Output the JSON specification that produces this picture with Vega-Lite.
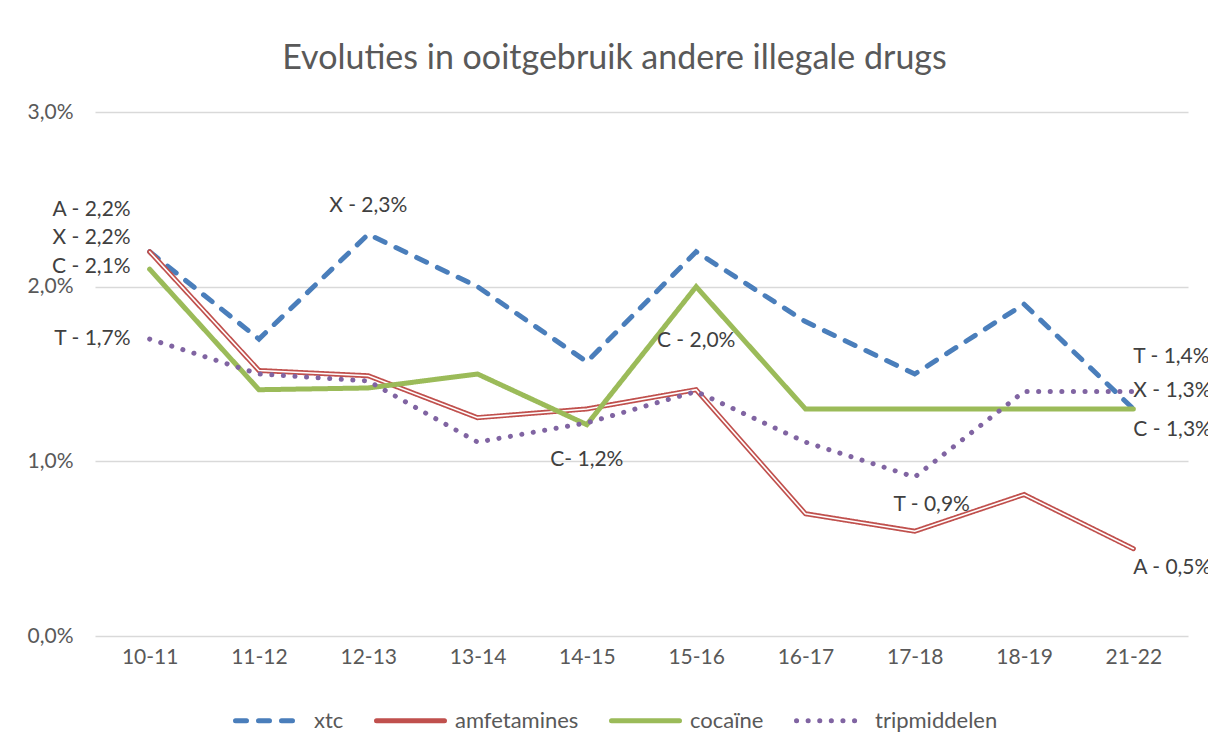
{
  "$schema": "https://vega.github.io/schema/vega-lite/v6.json",
  "autosize": "none",
  "width": 1093,
  "height": 524,
  "padding": {"left": 95, "top": 112, "right": 20, "bottom": 113},
  "background": "white",
  "title": {"text": "Evoluties in ooitgebruik andere illegale drugs", "fontSize": 34, "font": "Lato", "fontWeight": "normal", "color": "#595959", "offset": 25, "dx": -27, "anchor": "middle"},
  "datasets": {
    "lines": [
      {"period": "10-11", "series": "xtc", "value": 2.2},
      {"period": "11-12", "series": "xtc", "value": 1.7},
      {"period": "12-13", "series": "xtc", "value": 2.3},
      {"period": "13-14", "series": "xtc", "value": 2.0},
      {"period": "14-15", "series": "xtc", "value": 1.57},
      {"period": "15-16", "series": "xtc", "value": 2.2},
      {"period": "16-17", "series": "xtc", "value": 1.8},
      {"period": "17-18", "series": "xtc", "value": 1.5},
      {"period": "18-19", "series": "xtc", "value": 1.9},
      {"period": "21-22", "series": "xtc", "value": 1.3},
      {"period": "10-11", "series": "amfetamines", "value": 2.2},
      {"period": "11-12", "series": "amfetamines", "value": 1.52},
      {"period": "12-13", "series": "amfetamines", "value": 1.49},
      {"period": "13-14", "series": "amfetamines", "value": 1.25},
      {"period": "14-15", "series": "amfetamines", "value": 1.3},
      {"period": "15-16", "series": "amfetamines", "value": 1.41},
      {"period": "16-17", "series": "amfetamines", "value": 0.7},
      {"period": "17-18", "series": "amfetamines", "value": 0.6},
      {"period": "18-19", "series": "amfetamines", "value": 0.81},
      {"period": "21-22", "series": "amfetamines", "value": 0.5},
      {"period": "10-11", "series": "cocaïne", "value": 2.1},
      {"period": "11-12", "series": "cocaïne", "value": 1.41},
      {"period": "12-13", "series": "cocaïne", "value": 1.42},
      {"period": "13-14", "series": "cocaïne", "value": 1.5},
      {"period": "14-15", "series": "cocaïne", "value": 1.21},
      {"period": "15-16", "series": "cocaïne", "value": 2.0},
      {"period": "16-17", "series": "cocaïne", "value": 1.3},
      {"period": "17-18", "series": "cocaïne", "value": 1.3},
      {"period": "18-19", "series": "cocaïne", "value": 1.3},
      {"period": "21-22", "series": "cocaïne", "value": 1.3},
      {"period": "10-11", "series": "tripmiddelen", "value": 1.7},
      {"period": "11-12", "series": "tripmiddelen", "value": 1.5},
      {"period": "12-13", "series": "tripmiddelen", "value": 1.46},
      {"period": "13-14", "series": "tripmiddelen", "value": 1.11},
      {"period": "14-15", "series": "tripmiddelen", "value": 1.22},
      {"period": "15-16", "series": "tripmiddelen", "value": 1.4},
      {"period": "16-17", "series": "tripmiddelen", "value": 1.11},
      {"period": "17-18", "series": "tripmiddelen", "value": 0.91},
      {"period": "18-19", "series": "tripmiddelen", "value": 1.4},
      {"period": "21-22", "series": "tripmiddelen", "value": 1.4}
    ],
    "labelsLeft": [
      {"period": "10-11", "labelAt": 2.44, "text": "A - 2,2%"},
      {"period": "10-11", "labelAt": 2.28, "text": "X - 2,2%"},
      {"period": "10-11", "labelAt": 2.115, "text": "C - 2,1%"},
      {"period": "10-11", "labelAt": 1.7, "text": "T - 1,7%"}
    ],
    "labelsCenter": [
      {"period": "12-13", "labelAt": 2.46, "text": "X - 2,3%"},
      {"period": "15-16", "labelAt": 1.69, "text": "C - 2,0%"},
      {"period": "14-15", "labelAt": 1.01, "text": "C- 1,2%"}
    ],
    "labelsShifted": [
      {"period": "17-18", "labelAt": 0.75, "text": "T - 0,9%"}
    ],
    "labelsRight": [
      {"period": "21-22", "labelAt": 1.6, "text": "T - 1,4%"},
      {"period": "21-22", "labelAt": 1.4, "text": "X - 1,3%"},
      {"period": "21-22", "labelAt": 1.18, "text": "C - 1,3%"},
      {"period": "21-22", "labelAt": 0.39, "text": "A - 0,5%"}
    ]
  },
  "encoding": {
    "x": {
      "field": "period", "type": "ordinal",
      "sort": ["10-11", "11-12", "12-13", "13-14", "14-15", "15-16", "16-17", "17-18", "18-19", "21-22"],
      "scale": {"type": "point", "padding": 0.5},
      "axis": {"title": null, "domain": false, "ticks": false, "grid": false, "labelAngle": 0, "labelFontSize": 21, "labelColor": "#595959", "labelFont": "Lato", "labelPadding": 10}
    }
  },
  "layer": [
    {
      "data": {"name": "lines"},
      "transform": [{"filter": "datum.series === 'xtc' || datum.series === 'amfetamines'"}],
      "mark": {"type": "line", "strokeWidth": 5, "strokeCap": "round"},
      "encoding": {
        "y": {
          "field": "value", "type": "quantitative",
          "scale": {"domain": [0, 3]},
          "axis": {"title": null, "values": [0, 1, 2, 3], "domain": false, "ticks": false, "grid": true, "gridColor": "#d9d9d9", "gridWidth": 1.5, "labelFontSize": 21, "labelColor": "#595959", "labelFont": "Lato", "labelPadding": 22, "labelExpr": "replace(format(datum.value, '.1f'), '.', ',') + '%'"}
        },
        "color": {
          "field": "series", "type": "nominal",
          "scale": {"domain": ["xtc", "amfetamines", "cocaïne", "tripmiddelen"], "range": ["#4a7ebb", "#c0504d", "#9bbb59", "#8064a2"]},
          "legend": {"orient": "none", "legendX": 138, "legendY": 572, "direction": "horizontal", "title": null, "symbolType": "stroke", "symbolSize": 4624, "symbolStrokeWidth": 5, "labelFontSize": 22, "labelColor": "#595959", "labelFont": "Lato", "columnPadding": 22, "labelOffset": 8, "encode": {"symbols": {"update": {"strokeCap": {"value": "round"}}}}}
        },
        "strokeDash": {
          "field": "series", "type": "nominal",
          "scale": {"domain": ["xtc", "amfetamines", "cocaïne", "tripmiddelen"], "range": [[11, 12], [1, 0], [1, 0], [0.1, 11.5]]},
          "legend": {"orient": "none", "legendX": 138, "legendY": 572, "direction": "horizontal", "title": null, "symbolType": "stroke", "symbolSize": 4624, "symbolStrokeWidth": 5, "labelFontSize": 22, "labelColor": "#595959", "labelFont": "Lato", "columnPadding": 22, "labelOffset": 8, "encode": {"symbols": {"update": {"strokeCap": {"value": "round"}}}}}
        }
      }
    },
    {
      "data": {"name": "lines"},
      "transform": [{"filter": "datum.series === 'amfetamines'"}],
      "mark": {"type": "line", "strokeWidth": 1.6, "color": "white", "strokeCap": "round"},
      "encoding": {
        "y": {"field": "value", "type": "quantitative"}
      }
    },
    {
      "data": {"name": "lines"},
      "transform": [{"filter": "datum.series === 'cocaïne' || datum.series === 'tripmiddelen'"}],
      "mark": {"type": "line", "strokeWidth": 5, "strokeCap": "round"},
      "encoding": {
        "y": {"field": "value", "type": "quantitative"},
        "color": {"field": "series", "type": "nominal"},
        "strokeDash": {"field": "series", "type": "nominal"}
      }
    },
    {
      "data": {"name": "labelsLeft"},
      "mark": {"type": "text", "align": "right", "baseline": "middle", "dx": -19, "fontSize": 21, "font": "Lato", "color": "#404040"},
      "encoding": {"y": {"field": "labelAt", "type": "quantitative"}, "text": {"field": "text"}}
    },
    {
      "data": {"name": "labelsCenter"},
      "mark": {"type": "text", "align": "center", "baseline": "middle", "fontSize": 21, "font": "Lato", "color": "#404040"},
      "encoding": {"y": {"field": "labelAt", "type": "quantitative"}, "text": {"field": "text"}}
    },
    {
      "data": {"name": "labelsShifted"},
      "mark": {"type": "text", "align": "center", "baseline": "middle", "dx": 17, "fontSize": 21, "font": "Lato", "color": "#404040"},
      "encoding": {"y": {"field": "labelAt", "type": "quantitative"}, "text": {"field": "text"}}
    },
    {
      "data": {"name": "labelsRight"},
      "mark": {"type": "text", "align": "left", "baseline": "middle", "dx": 0, "fontSize": 21, "font": "Lato", "color": "#404040"},
      "encoding": {"y": {"field": "labelAt", "type": "quantitative"}, "text": {"field": "text"}}
    }
  ],
  "config": {"view": {"stroke": null}, "font": "Lato"}
}
